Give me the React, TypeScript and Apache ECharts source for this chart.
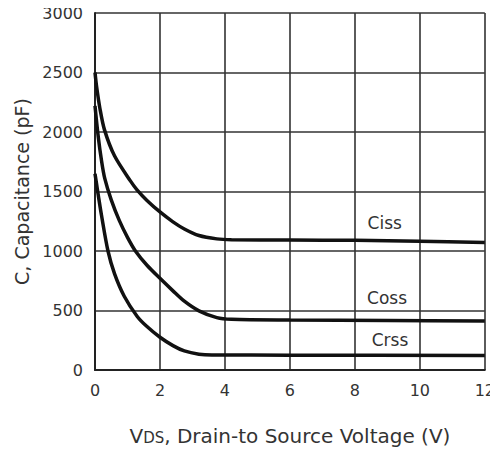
import React, { useEffect, useRef } from "react";
import * as echarts from "echarts";

const cissData: [number, number][] = [
  [0, 2500], [0.05, 2380], [0.15, 2200], [0.29, 2020], [0.6, 1800], [1.1, 1585],
  [1.3, 1512], [1.6, 1425], [2, 1328], [2.4, 1245], [2.75, 1185], [3.2, 1130],
  [3.75, 1102], [4.2, 1095], [6, 1092], [8, 1090], [10, 1082], [12, 1072],
];
const cossData: [number, number][] = [
  [0, 2220], [0.1, 1960], [0.2, 1760], [0.3, 1610], [0.5, 1430], [0.75, 1255],
  [1, 1115], [1.25, 998], [1.6, 880], [2, 770], [2.4, 665], [2.75, 578],
  [3.2, 497], [3.75, 440], [4.2, 426], [6, 420], [9, 416], [12, 412],
];
const crssData: [number, number][] = [
  [0, 1650], [0.05, 1560], [0.1, 1470], [0.2, 1300], [0.4, 1000], [0.6, 810],
  [0.9, 620], [1.3, 450], [1.6, 365], [2, 275], [2.4, 205], [2.75, 160],
  [3.2, 133], [3.6, 126], [6, 125], [12, 122],
];
const seriesNames = ["Ciss", "Coss", "Crss"];
const labelCoords: [number, number][] = [[8.92, 1235], [8.99, 605], [9.08, 252]];

const FONT = "DejaVu Sans";

export default function App() {
  const ref = useRef<HTMLDivElement>(null);
  useEffect(() => {
    if (!ref.current) return;
    const chart = echarts.init(ref.current, null, { renderer: "svg" });
    const all = [cissData, cossData, crssData];
    chart.setOption({
      animation: false,
      backgroundColor: "#ffffff",
      grid: { left: 95, right: 9, top: 13, bottom: 91 },
      xAxis: {
        type: "value",
        min: 0,
        max: 12,
        interval: 2,
        name: "{a|V}{b|DS}{a|, Drain-to Source Voltage (V)}",
        nameLocation: "middle",
        nameGap: 56,
        nameTextStyle: {
          rich: {
            a: { fontFamily: FONT, fontSize: 20, color: "#333" },
            b: { fontFamily: FONT, fontSize: 15, color: "#333", verticalAlign: "bottom", padding: [0, 0, 1, 0] },
          },
        },
        axisLine: { show: true, lineStyle: { color: "#222", width: 2 } },
        axisTick: { show: false },
        axisLabel: { fontFamily: FONT, fontSize: 16, color: "#333", margin: 12 },
        splitLine: { show: true, lineStyle: { color: "#333", width: 1.6 } },
      },
      yAxis: {
        type: "value",
        min: 0,
        max: 3000,
        interval: 500,
        name: "C, Capacitance (pF)",
        nameLocation: "middle",
        nameGap: 63,
        nameTextStyle: { fontFamily: FONT, fontSize: 19, color: "#333" },
        axisLine: { show: true, lineStyle: { color: "#222", width: 2 } },
        axisTick: { show: false },
        axisLabel: {
          fontFamily: FONT,
          fontSize: 16,
          color: "#333",
          margin: 12,
          formatter: (v: number) => String(v),
        },
        splitLine: { show: true, lineStyle: { color: "#333", width: 1.6 } },
      },
      series: seriesNames.map((name, i) => ({
        name,
        type: "line",
        data: all[i],
        smooth: 0.3,
        showSymbol: false,
        lineStyle: { color: "#111", width: 3.5 },
        markPoint: {
          symbol: "circle",
          symbolSize: 0,
          data: [
            {
              coord: labelCoords[i],
              label: {
                show: true,
                formatter: name,
                position: "inside",
                fontFamily: FONT,
                fontSize: 17,
                color: "#333",
              },
            },
          ],
        },
      })),
    });
    return () => chart.dispose();
  }, []);
  return <div ref={ref} style={{ width: 498, height: 461, margin: -8 }} />;
}
